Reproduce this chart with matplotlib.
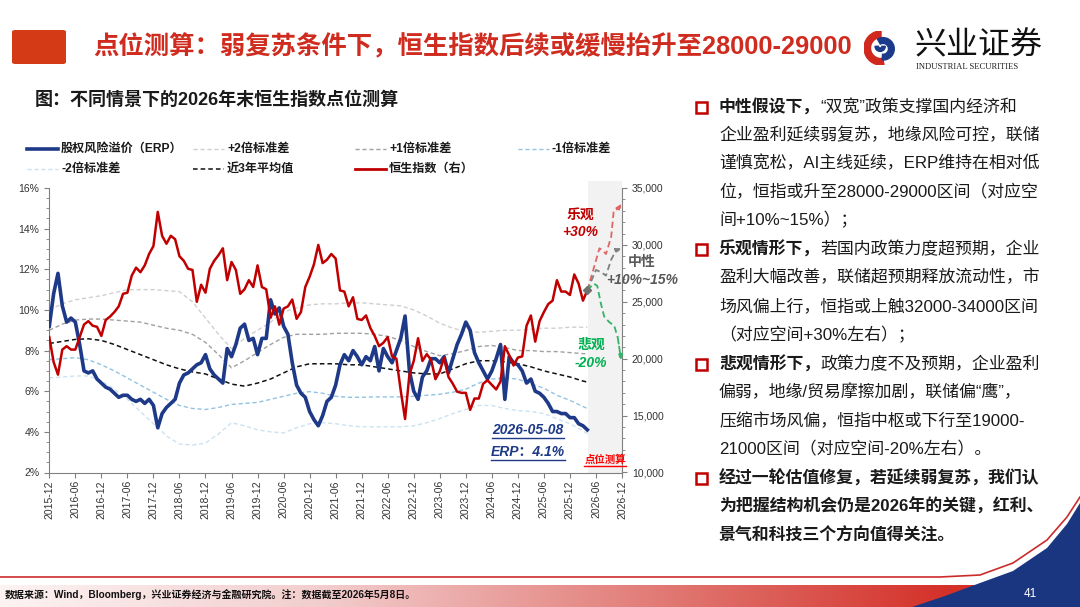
import numpy as np
import pandas as pd
import matplotlib
matplotlib.use('Agg')
import matplotlib.pyplot as plt
from matplotlib.lines import Line2D
from matplotlib.patches import Rectangle, FancyBboxPatch, Polygon, Wedge
from matplotlib.ticker import AutoMinorLocator, MultipleLocator, FuncFormatter

plt.rcParams['font.family'] = ['Liberation Sans', 'Noto Sans CJK SC']
plt.rcParams['axes.unicode_minus'] = False

# ---------------- data (x = months since 2015-12) ----------------
tick_labels = pd.date_range('2015-12-01', '2026-12-01', freq='6MS').strftime('%Y-%m').tolist()
months = np.arange(125)          # last point = 2026-05-08

erp = [9.2, 10.8, 11.8, 10.2, 9.4, 9.6, 9.4, 8.3, 7.0, 6.9, 7.0, 6.6,
       6.4, 6.2, 6.1, 5.9, 5.7, 5.8, 5.8, 5.6, 5.5, 5.6, 5.4, 5.6,
       5.3, 4.2, 4.9, 5.2, 5.4, 5.6, 6.4, 6.8, 6.9, 7.1, 7.3, 7.4,
       7.8, 7.1, 6.8, 6.6, 6.4, 8.1, 7.7, 8.3, 9.1, 9.3, 8.5, 8.6,
       7.8, 8.6, 8.6, 10.5, 9.8, 10.1, 9.2, 8.8, 7.4, 6.3, 5.9, 5.7,
       5.0, 4.6, 4.3, 4.8, 5.5, 5.7, 6.3, 7.3, 7.8, 7.5, 8.0, 7.7,
       7.3, 7.7, 7.5, 8.2, 7.0, 8.1, 7.7, 7.4, 8.0, 8.6, 9.7, 7.0,
       6.0, 5.6, 6.7, 7.0, 7.6, 7.6, 7.4, 7.7, 6.9, 7.6, 8.3, 8.8,
       9.4, 9.0, 7.9, 7.4, 7.0, 6.6, 7.0, 7.6, 8.3, 5.6, 7.7, 7.4,
       7.3, 7.0, 6.4, 6.6, 6.0, 5.9, 5.7, 5.4, 5.0, 5.0, 4.9, 4.9,
       4.7, 4.7, 4.4, 4.3, 4.1]

hsi = [21900, 19700, 18600, 20800, 21100, 20800, 20800, 21900, 23000, 23300, 22900, 22800,
       22000, 23400, 23700, 24100, 24600, 25700, 25800, 27300, 28000, 27600, 28200, 29200,
       29900, 32900, 30800, 30100, 30800, 30500, 29000, 28600, 27900, 27800, 25000, 26500,
       25800, 27900, 28600, 29100, 29700, 26900, 28500, 27800, 25700, 26100, 26900, 26300,
       28200, 26300, 26100, 23600, 24600, 23000, 24400, 24600, 25200, 23500, 24100, 26300,
       27200, 28300, 30000, 28400, 28700, 29200, 28800, 26000, 25900, 24600, 25400, 23500,
       23400, 23800, 22700, 22000, 21100, 21400, 21900, 20200, 20000, 17200, 14700, 18600,
       19800, 21800, 19800, 20400, 19900, 18200, 18900, 20100, 18400, 17800, 17100, 17000,
       17000, 15500, 16500, 16500, 17800, 18100, 17700, 17300, 18000, 21100, 20300, 19400,
       20100, 20200, 22900, 23800, 21500, 23300, 24100, 24800, 25100, 26900, 25900, 25900,
       25600, 27400, 26600, 25100, 26000]

band_months = list(range(0, 124, 3)) + [124]
plus2 = [10.0, 10.3, 10.5, 10.6, 10.7, 10.85, 11.0, 11.0, 11.0, 10.95, 10.9, 10.4, 9.6, 8.8,
         8.1, 8.6, 9.0, 9.4, 9.9, 10.1, 10.25, 10.3, 10.3, 10.35, 10.35, 10.3, 10.25, 10.2,
         10.0, 9.7, 9.35, 9.1, 8.95, 8.9, 8.95, 9.0, 9.0, 9.05, 9.1, 9.1, 9.15, 9.15, 9.15]
plus1 = [9.0, 9.3, 9.5, 9.55, 9.55, 9.5, 9.45, 9.4, 9.25, 9.1, 9.0, 8.8, 8.4, 7.8,
         7.15, 7.5, 7.9, 8.3, 8.65, 8.8, 8.8, 8.8, 8.85, 8.85, 8.85, 8.8, 8.7, 8.5,
         8.2, 7.95, 7.75, 7.85, 8.0, 8.2, 8.25, 8.15, 8.0, 8.0, 7.95, 7.95, 7.9, 7.85, 7.85]
avg3y = [8.35, 8.45, 8.55, 8.58, 8.5, 8.3, 8.05, 7.8, 7.55, 7.3, 7.1, 6.95, 6.85, 6.6,
         6.35, 6.25, 6.4, 6.6, 6.9, 7.2, 7.35, 7.35, 7.35, 7.3, 7.3, 7.2, 7.1, 7.0,
         6.9, 6.85, 6.85, 7.1, 7.35, 7.5, 7.5, 7.45, 7.35, 7.2, 7.0, 6.85, 6.7, 6.5, 6.45]
minus1 = [7.55, 7.6, 7.65, 7.55, 7.3, 7.0, 6.65, 6.3, 5.95, 5.6, 5.3, 5.15, 5.1, 5.2,
          5.35, 5.4, 5.45, 5.6, 5.75, 5.9, 5.98, 5.9, 5.75, 5.7, 5.7, 5.72, 5.72, 5.72,
          5.75, 5.8, 5.85, 5.95, 6.1, 6.4, 6.6, 6.65, 6.6, 6.35, 6.15, 5.8, 5.55, 5.25, 5.15]
minus2 = [6.65, 6.7, 6.75, 6.75, 6.5, 6.1, 5.6, 5.0, 4.4, 3.8, 3.4, 3.35, 3.45, 3.9,
          4.45, 4.3, 4.1, 4.0, 3.95, 4.2, 4.4, 4.45, 4.4, 4.3, 4.25, 4.25, 4.25, 4.25,
          4.3, 4.45, 4.65, 4.9, 5.1, 5.3, 5.3, 5.15, 5.05, 5.0, 4.9, 4.65, 4.4, 4.05, 3.9]

# scenario paths for the HSI (right axis)
opt_m = [124, 125.6, 126.8, 127.6, 128.3, 129.5, 130.1, 131.2, 131.8]
opt_v = [26000, 28100, 29700, 29500, 29200, 30700, 33000, 33200, 33600]
neu_m = [124, 126.0, 127.2, 128.3, 129.5, 130.6, 131.8]
neu_v = [26000, 27800, 27600, 27300, 28700, 29500, 29700]
pes_m = [124, 125.5, 126.3, 127.1, 127.9, 129.1, 130.2, 131.0, 131.8]
pes_v = [26000, 26600, 26400, 24900, 23700, 23200, 22900, 21900, 19900]

# ---------------- figure ----------------
W, H = 1080, 607
fig = plt.figure(figsize=(W / 100, H / 100), dpi=100)
fig.patch.set_facecolor('white')


def fx(x):
    return x / W


def fy(y):
    return 1 - y / H


RED = '#c00000'
NAVY = '#1d3987'
TXT = '#1a1a1a'

ax = fig.add_axes([fx(49.3), fy(472.5), (622 - 49.3) / W, (472.5 - 188) / H])
ax2 = ax.twinx()

ax.axvspan(124.2, 132, ymax=1.025, color='#f2f2f2', zorder=0, clip_on=False, lw=0)

dash = (0, (3, 2))
ax.plot(band_months, plus2, color='#cfcfcf', lw=1.0, ls=dash)
ax.plot(band_months, plus1, color='#a0a0a0', lw=1.0, ls=dash)
ax.plot(band_months, avg3y, color='#111111', lw=1.1, ls=dash)
ax.plot(band_months, minus1, color='#92c3e0', lw=1.0, ls=dash)
ax.plot(band_months, minus2, color='#cce2f1', lw=1.0, ls=dash)
ax.plot(months, erp, color=NAVY, lw=2.6, zorder=3)

ax2.plot(months, hsi, color=RED, lw=1.8)
scen = [(opt_m, opt_v, '#e06666'), (neu_m, neu_v, '#808080'), (pes_m, pes_v, '#33b366')]
for mm, vv, c in scen:
    ax2.plot(mm[:-1], vv[:-1], color=c, lw=1.3, ls=(0, (3.5, 2)))
    ax2.annotate('', xy=(mm[-1], vv[-1]), xytext=(mm[-2], vv[-2]),
                 arrowprops=dict(arrowstyle='-|>', color=c, lw=1.3, ls='--',
                                 mutation_scale=7, shrinkA=0, shrinkB=0))
ax2.plot(months[-1], hsi[-1], marker='D', ms=4, color='#707070', zorder=5)

ax.set_xlim(0, 132)
ax.set_ylim(2, 16)
ax2.set_ylim(10000, 35000)
ax.set_xticks(range(0, 133, 6))
ax.set_xticklabels(tick_labels, rotation=90)
ax.set_yticks(range(2, 17, 2))
ax.yaxis.set_major_formatter(FuncFormatter(lambda v, p: f'{v:.0f}%'))
ax.yaxis.set_minor_locator(AutoMinorLocator(4))
ax2.set_yticks(range(10000, 35001, 5000))
ax2.yaxis.set_major_formatter(FuncFormatter(lambda v, p: f'{v:,.0f}'))
ax2.yaxis.set_minor_locator(MultipleLocator(1000))

for a in (ax, ax2):
    a.spines['top'].set_visible(False)
    for s in ('left', 'right', 'bottom'):
        a.spines[s].set_color('#808080')
        a.spines[s].set_linewidth(0.8)
    a.tick_params(which='major', length=3.5, width=0.8, color='#808080',
                  labelsize=7.5, labelcolor='#333333', direction='out')
    a.tick_params(which='minor', length=2, width=0.6, color='#808080', direction='out')
ax.spines['right'].set_visible(False)
ax2.spines['left'].set_visible(False)
ax2.spines['bottom'].set_visible(False)
ax.tick_params(axis='x', pad=2)

# ---------------- legend (manual, fixed columns) ----------------
legend_items = [
    ('股权风险溢价（ERP）', NAVY, 2.6, '-', 27, 149),
    ('+2倍标准差', '#cfcfcf', 1.0, dash, 193, 149),
    ('+1倍标准差', '#a0a0a0', 1.0, dash, 355, 149),
    ('-1倍标准差', '#92c3e0', 1.0, dash, 518, 149),
    ('-2倍标准差', '#cce2f1', 1.0, dash, 27, 169),
    ('近3年平均值', '#111111', 1.1, dash, 193, 169),
    ('恒生指数（右）', RED, 2.0, '-', 355, 169),
]
for lab, c, lw, ls, x0, y0 in legend_items:
    fig.add_artist(Line2D([fx(x0), fx(x0 + 31)], [fy(y0), fy(y0)], color=c, lw=lw, ls=ls,
                          transform=fig.transFigure))
    fig.text(fx(x0 + 34), fy(y0), lab, fontsize=8.7, weight='bold', color=TXT, va='center')

# ---------------- chart annotations ----------------
fig.text(fx(580), fy(215), '乐观', fontsize=10, weight='bold', style='italic', color=RED, ha='center', va='center')
fig.text(fx(580), fy(232), '+30%', fontsize=10, weight='bold', style='italic', color=RED, ha='center', va='center')
fig.text(fx(642), fy(262), '中性', fontsize=10, weight='bold', style='italic', color='#595959', ha='center', va='center')
fig.text(fx(642), fy(280), '+10%~15%', fontsize=10, weight='bold', style='italic', color='#595959', ha='center', va='center')
fig.text(fx(591), fy(345), '悲观', fontsize=10, weight='bold', style='italic', color='#00b050', ha='center', va='center')
fig.text(fx(591), fy(363), '-20%', fontsize=10, weight='bold', style='italic', color='#00b050', ha='center', va='center')
t_date = fig.text(fx(528), fy(430), '2026-05-08', fontsize=10, weight='bold', style='italic', color=NAVY, ha='center', va='center')
t_erp = fig.text(fx(528), fy(452), 'ERP：4.1%', fontsize=10, weight='bold', style='italic', color=NAVY, ha='center', va='center')
t_pt = fig.text(fx(605), fy(460), '点位测算', fontsize=7.5, weight='bold', color='#ff0000', ha='center', va='center')

# ---------------- header ----------------
fig.add_artist(FancyBboxPatch((fx(12), fy(64)), (66 - 12) / W, (64 - 30) / H,
                              boxstyle='round,pad=0,rounding_size=0.003',
                              transform=fig.transFigure, fc='#d43a16', ec='none'))
fig.text(fx(93), fy(47), '点位测算：弱复苏条件下，恒生指数后续或缓慢抬升至28000-29000',
         fontsize=18.3, weight='bold', color='#cf2b1f', va='center')

lax = fig.add_axes([fx(864), fy(66), 34 / W, 36 / H])
lax.set_xlim(-1, 1)
lax.set_ylim(-1, 1)
lax.set_aspect('equal')
lax.axis('off')
lax.add_patch(Wedge((0, 0), 1.0, 90, 280, width=0.38, color='#d0281e'))
lax.add_patch(Wedge((0.12, -0.05), 0.66, -95, 120, width=0.34, color='#1b3a8a'))
lax.add_patch(Wedge((-0.05, 0.1), 0.3, 180, 360, width=0.2, color='#1b3a8a'))
fig.text(fx(915), fy(45), '兴业证券', fontsize=23, color='#111111', va='center',
         family=['Noto Sans CJK SC'])
fig.text(fx(916), fy(67), 'INDUSTRIAL SECURITIES', fontsize=6.2, color='#222222', va='center',
         family=['Liberation Serif'])

fig.text(fx(35), fy(100), '图：不同情景下的2026年末恒生指数点位测算', fontsize=13,
         weight='bold', color=TXT, va='center')

# ---------------- right panel ----------------
panel = [
    (107, True, [('中性假设下，', True), ('“双宽”政策支撑国内经济和', False)]),
    (135, False, [('企业盈利延续弱复苏，地缘风险可控，联储', False)]),
    (163, False, [('谨慎宽松，AI主线延续，ERP维持在相对低', False)]),
    (192, False, [('位，恒指或升至28000-29000区间（对应空', False)]),
    (220, False, [('间+10%~15%）；', False)]),
    (249, True, [('乐观情形下，', True), ('若国内政策力度超预期，企业', False)]),
    (277, False, [('盈利大幅改善，联储超预期释放流动性，市', False)]),
    (306, False, [('场风偏上行，恒指或上触32000-34000区间', False)]),
    (335, False, [('（对应空间+30%左右）；', False)]),
    (364, True, [('悲观情形下，', True), ('政策力度不及预期，企业盈利', False)]),
    (392, False, [('偏弱，地缘/贸易摩擦加剧，联储偏“鹰”，', False)]),
    (421, False, [('压缩市场风偏，恒指中枢或下行至19000-', False)]),
    (449, False, [('21000区间（对应空间-20%左右）。', False)]),
    (478, True, [('经过一轮估值修复，若延续弱复苏，我们认', True)]),
    (506, False, [('为把握结构机会仍是2026年的关键，红利、', True)]),
    (535, False, [('景气和科技三个方向值得关注。', True)]),
]
renderer = fig.canvas.get_renderer()
for y, bullet, segs in panel:
    if bullet:
        fig.add_artist(Rectangle((fx(696), fy(y + 5.5)), 11 / W, 11 / H, transform=fig.transFigure,
                                 fc='none', ec='#c00000', lw=1.8))
    x = 719
    for s, bold in segs:
        t = fig.text(fx(x), fy(y), s, fontsize=12.2, weight='bold' if bold else 'normal',
                     color=TXT, va='center')
        x += t.get_window_extent(renderer=renderer).width

# ---------------- footer ----------------
gax = fig.add_axes([0, 0, 1, 22 / H])
tt = np.linspace(0, 1, 600)
stops = [0, 0.3, 0.6, 0.88, 1]
grad = np.stack([np.interp(tt, stops, [253, 242, 226, 212, 212]),
                 np.interp(tt, stops, [243, 205, 125, 48, 48]),
                 np.interp(tt, stops, [243, 205, 120, 40, 40])], axis=-1)[None, :, :] / 255
gax.imshow(grad, aspect='auto', extent=(0, 1, 0, 1))
gax.axis('off')

fig.add_artist(Line2D([fx(v) for v in (0, 940, 980, 1013, 1047, 1067, 1080)],
                      [fy(v) for v in (577, 577, 575, 563, 540, 517, 497)],
                      color='#cc2b2b', lw=1.2, transform=fig.transFigure))
fig.add_artist(Polygon([(fx(a), fy(b)) for a, b in
                        [(912, 607), (945, 596), (980, 583), (1013, 571), (1047, 548),
                         (1067, 524), (1080, 503), (1080, 607)]],
                       closed=True, fc='#1b3680', ec='none', transform=fig.transFigure))
fig.text(fx(1030), fy(594), '41', fontsize=8.5, color='white', ha='center', va='center')
fig.text(fx(5), fy(595), '数据来源：Wind，Bloomberg，兴业证券经济与金融研究院。注：数据截至2026年5月8日。',
         fontsize=7.2, weight='bold', color='#111111', va='center')

# underlines for the chart labels
fig.canvas.draw()
for t, c in ((t_date, NAVY), (t_erp, NAVY), (t_pt, '#ff0000')):
    bb = t.get_window_extent(renderer=renderer)
    fig.add_artist(Line2D([bb.x0 / W, bb.x1 / W], [(bb.y0 - 1) / H] * 2, color=c, lw=1.0,
                          transform=fig.transFigure))

fig.savefig('out.png', dpi=100)
